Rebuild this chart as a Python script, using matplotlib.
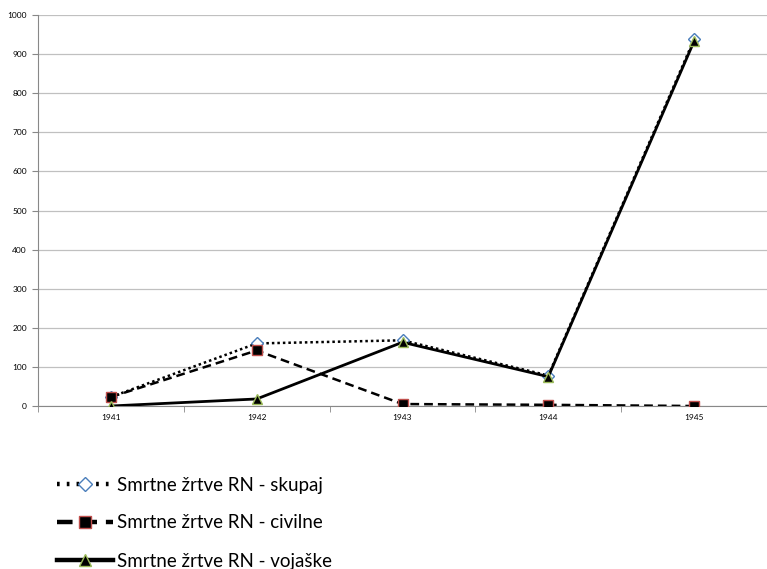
import matplotlib.pyplot as plt

leta = ['1941', '1942', '1943', '1944', '1945']
skupaj = [23, 160, 168, 78, 938]
civilne = [23, 142, 5, 3, 0]
vojaske = [0, 18, 163, 75, 933]

plt.rcParams['font.family'] = ['Lato', 'DejaVu Sans']

fig = plt.figure(figsize=(7.67, 5.69), dpi=100)
ax = fig.add_axes([38 / 767, 163 / 569, 729 / 767, 391 / 569])

x = range(len(leta))
ax.plot(x, skupaj, color='black', linestyle=(0, (1, 1.2)), linewidth=1.8,
        marker='D', markersize=6, markerfacecolor='white', markeredgecolor='#4a7ebb',
        markeredgewidth=1, label='Smrtne žrtve RN - skupaj', zorder=3)
ax.plot(x, civilne, color='black', linestyle=(0, (3.5, 2)), linewidth=1.8,
        marker='s', markersize=7, markerfacecolor='black', markeredgecolor='#c0504d',
        markeredgewidth=1, label='Smrtne žrtve RN - civilne', zorder=4)
ax.plot(x, vojaske, color='black', linestyle='-', linewidth=2.0,
        marker='^', markersize=7, markerfacecolor='black', markeredgecolor='#9bbb59',
        markeredgewidth=1, label='Smrtne žrtve RN - vojaške', zorder=5)

ax.set_xlim(-0.5, len(leta) - 0.5)
ax.set_ylim(0, 1000)
ax.set_yticks(range(0, 1001, 100))
ax.set_xticks(list(x))
ax.set_xticklabels(leta)
ax.set_xticks([i + 0.5 for i in range(-1, len(leta))], minor=True)
ax.tick_params(axis='x', which='major', length=0, labelsize=6, pad=6)
ax.tick_params(axis='x', which='minor', length=4, color='#888888', direction='out')
ax.tick_params(axis='y', length=4, color='#888888', labelsize=6, pad=4)
ax.grid(axis='y', color='#c0c0c0', linewidth=0.9)
ax.set_axisbelow(True)
for s in ['top', 'right']:
    ax.spines[s].set_visible(False)
ax.spines['left'].set_color('#888888')
ax.spines['bottom'].set_color('#888888')

leg = fig.legend(loc='upper left', bbox_to_anchor=(49 / 767, 1 - 469 / 569), frameon=False,
                 fontsize=13.5, handlelength=3.0, handletextpad=0.25, labelspacing=1.12,
                 borderaxespad=0, markerscale=1.2)
for h in leg.legend_handles:
    h.set_linewidth(3.2)
leg.legend_handles[0].set_linestyle((0, (0.6, 1.6)))

fig.savefig('out.png', dpi=100)
